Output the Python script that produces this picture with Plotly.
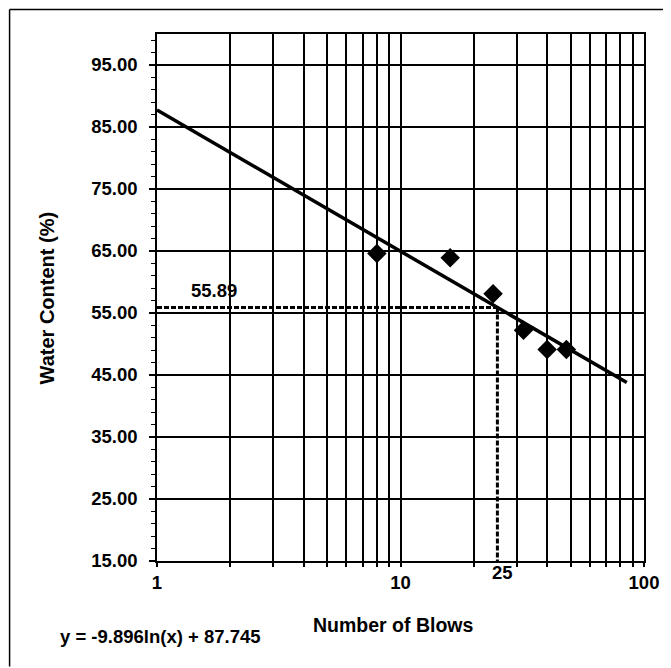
import plotly.graph_objects as go
import numpy as np

# Data
blows = [8, 16, 24, 32, 40, 48]
water_content = [64.6, 63.9, 58.1, 52.2, 49.1, 49.1]

# Trendline from chart equation y = -9.896 ln(x) + 87.745
trend_a = -9.896
trend_b = 87.745
trend_x = [1, 2, 5, 10, 20, 50, 85]
trend_y = [trend_a * np.log(v) + trend_b for v in trend_x]

# Liquid-limit read-off
ll_blows = 25
ll_value = 55.89

y_ticks = [15, 25, 35, 45, 55, 65, 75, 85, 95]
x_grid = [1, 2, 3, 4, 5, 6, 7, 8, 9, 10, 20, 30, 40, 50, 60, 70, 80, 90, 100]
x_labels = {1: "1", 10: "10", 100: "100"}

FONT = "Liberation Sans, Arial, sans-serif"

fig = go.Figure()

# dashed read-off lines
fig.add_trace(go.Scatter(x=[1, ll_blows], y=[ll_value, ll_value], mode="lines",
                         line=dict(color="black", width=3, dash="5px,2px"),
                         hoverinfo="skip", showlegend=False))
fig.add_trace(go.Scatter(x=[ll_blows, ll_blows], y=[ll_value, 15], mode="lines",
                         line=dict(color="black", width=3, dash="5px,2px"),
                         hoverinfo="skip", showlegend=False))

# trendline
fig.add_trace(go.Scatter(x=trend_x, y=trend_y, mode="lines",
                         line=dict(color="black", width=3.5),
                         showlegend=False))

# data points
fig.add_trace(go.Scatter(x=blows, y=water_content, mode="markers",
                         marker=dict(symbol="diamond", size=15, color="black"),
                         showlegend=False))

fig.update_layout(
    width=663, height=660,
    margin=dict(l=149, r=25, t=26, b=107),
    paper_bgcolor="white", plot_bgcolor="white",
    font=dict(family=FONT, size=18, color="black"),
    showlegend=False,
)

fig.update_xaxes(
    type="log", range=[0, 2],
    tickvals=x_grid,
    ticktext=[x_labels.get(v, "") for v in x_grid],
    tickfont=dict(family=FONT, size=18.5, color="black", weight="bold"),
    showgrid=True, gridcolor="black", gridwidth=1.6,
    showline=True, linecolor="black", linewidth=1.6, mirror=True,
    ticks="outside", ticklen=4, tickcolor="black", tickwidth=1.5,
    zeroline=False,
)

fig.update_yaxes(
    range=[15, 100],
    tickvals=y_ticks,
    ticktext=[f"{v:.2f}" for v in y_ticks],
    tickfont=dict(family=FONT, size=18.5, color="black", weight="bold"),
    ticklabelstandoff=8,
    showgrid=True, gridcolor="black", gridwidth=1.6,
    showline=True, linecolor="black", linewidth=1.6, mirror=True,
    ticks="outside", ticklen=6, tickcolor="black", tickwidth=1.5,
    minor=dict(dtick=2, tick0=15, ticks="outside", ticklen=4, tickcolor="black",
               tickwidth=1, showgrid=False),
    zeroline=False,
)

def ann(text, x, y, xref="paper", yref="paper", angle=0, size=18.5):
    fig.add_annotation(text=text, x=x, y=y, xref=xref, yref=yref, showarrow=False,
                       xanchor="center", yanchor="middle", textangle=angle,
                       font=dict(family=FONT, size=size, color="black", weight="bold"))

ann("55.89", np.log10(1.71), 58.6, "x", "y")
ann("25", 0.7096, -0.021)
ann("Number of Blows", 0.485, -0.1215, size=19.5)
ann("y = -9.896ln(x) + 87.745", 0.008, -0.144, size=18.5)
ann("Water Content (%)", -0.225, 0.499, angle=-90, size=20)

# outer chart frame (top and left edges visible)
fig.add_shape(type="line", xref="paper", yref="paper", x0=-0.3027, x1=1.06, y0=1.0465, y1=1.0465,
              line=dict(color="black", width=1.5))
fig.add_shape(type="line", xref="paper", yref="paper", x0=-0.3027, x1=-0.3027, y0=1.0465, y1=-0.2,
              line=dict(color="black", width=1.5))

fig.write_html("out.html")
